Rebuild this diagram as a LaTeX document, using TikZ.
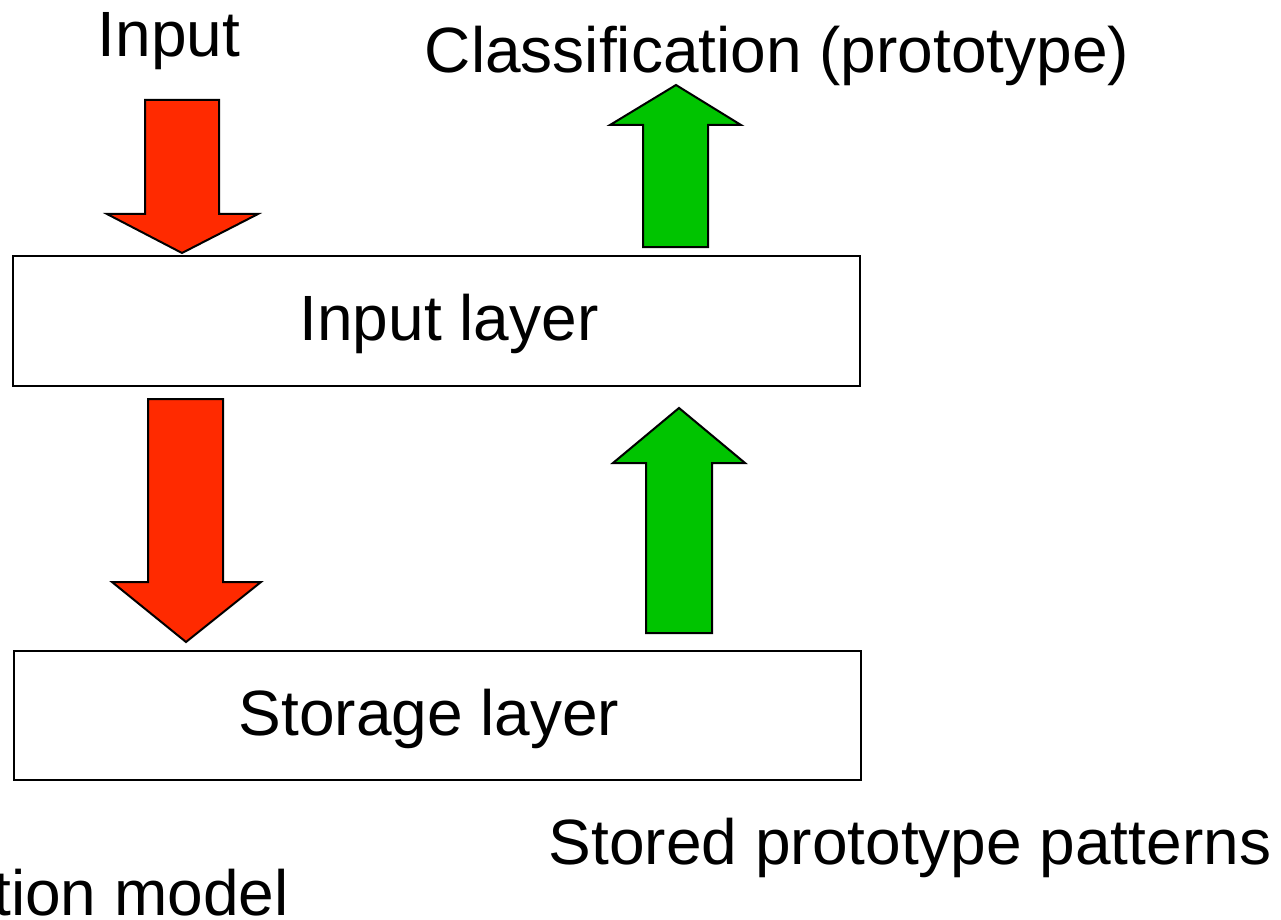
\documentclass[tikz,border=0pt]{standalone}
\usepackage{fontspec}
\setmainfont{Liberation Sans}
\usetikzlibrary{calc}

\definecolor{downred}{RGB}{255,42,0}
\definecolor{upgreen}{RGB}{0,196,0}

\begin{document}
\begin{tikzpicture}[x = 0.5pt, y = -0.5pt, line join = miter,
  label/.style = {font = \fontsize{32}{38}\selectfont, inner sep = 0},
  layerbox/.style = {draw, line width = 1pt},
  redblock/.style = {draw, line width = 1pt, fill = downred},
  greenblock/.style = {draw, line width = 1pt, fill = upgreen}]
  \useasboundingbox (0, 0) rectangle (1281, 920);

  % the two layers
  \draw[layerbox] (13, 256) coordinate (I1) rectangle (860, 386) coordinate (I2);
  \draw[layerbox] (14, 651) coordinate (S1) rectangle (861, 780) coordinate (S2);
  \node[label, anchor = base] (inlayer) at (449, 340) {Input layer};
  \node[label, anchor = base] (storelayer) at (429, 735) {Storage layer};

  % red arrows going down
  \draw[redblock] (145, 100) -- ++(74, 0) -- ++(0, 114) -- ++(39, 0)
  -- (182, 253) coordinate (tipA) -- (107, 214) -- ++(38, 0) -- cycle;
  \draw[redblock] (148, 399) -- ++(75, 0) -- ++(0, 183) -- ++(38, 0)
  -- (186, 642) coordinate (tipB) -- (112, 582) -- ++(36, 0) -- cycle;

  % green arrows going up
  \draw[greenblock] (643, 247) -- ++(65, 0) -- ++(0, -122) -- ++(33, 0)
  -- (676, 85) coordinate (tipC) -- (610, 125) -- ++(33, 0) -- cycle;
  \draw[greenblock] (646, 633) -- ++(66, 0) -- ++(0, -170) -- ++(33, 0)
  -- (679, 408) coordinate (tipD) -- (613, 463) -- ++(33, 0) -- cycle;

  % texts
  \node[label, anchor = base] (input) at (169, 57) {Input};
  \node[label, anchor = base] (classif) at (777, 73) {Classification (prototype)};
  \node[label, anchor = base] (stored) at (910, 864) {Stored prototype patterns};
  \node[label, anchor = base west] (model) at (-7, 915) {tion model};
\end{tikzpicture}
\end{document}
